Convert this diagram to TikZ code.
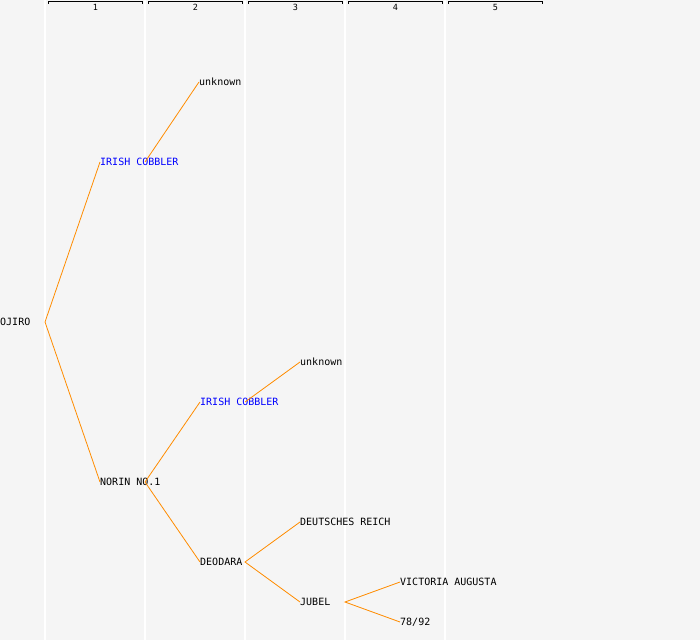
\documentclass[tikz,border=0pt]{standalone}
\usepackage{fontspec}
\setmonofont{DejaVu Sans Mono}
\definecolor{linkc}{RGB}{255,140,0}
\begin{document}
\begin{tikzpicture}[x=1pt,y=-1pt,
  lbl/.style={anchor=west,inner sep=0pt,font=\ttfamily\fontsize{10}{10}\selectfont,text height=7pt,text depth=0pt},
  blue lbl/.style={lbl,text=blue},
  link/.style={draw=linkc,line width=0.8pt},
  gen/.style={draw=white,line width=1.2pt},
  brk/.style={draw=black,line width=0.8pt},
  num/.style={inner sep=0pt,font=\ttfamily\fontsize{8.5}{8.5}\selectfont}]
\fill[black!4] (0,0) rectangle (700,640);
\useasboundingbox (0,0) rectangle (700,640);
% generation columns
\foreach \x in {45,145,245,345,445} \draw[gen] (\x,0) -- (\x,640);
% header brackets
\foreach \i/\a/\b in {1/48.5/142.5,2/148.5/242.5,3/248.5/342.5,4/348.5/442.5,5/448.5/542.5}{
  \draw[brk] (\a,3.5) -- (\a,1.5) -- (\b,1.5) -- (\b,3.5);
  \node[num] (h\i) at ({(\a+\b)/2},7) {\i};
}
% nodes
\node[lbl] (ojiro) at (0,322) {OJIRO};
\node[blue lbl] (ic1) at (100,162) {IRISH COBBLER};
\node[lbl] (unk1) at (199,82) {unknown};
\node[lbl] (norin) at (100,482) {NORIN NO.1};
\node[blue lbl] (ic2) at (200,402) {IRISH COBBLER};
\node[lbl] (unk2) at (300,362) {unknown};
\node[lbl] (deodara) at (200,562) {DEODARA};
\node[lbl] (deut) at (300,522) {DEUTSCHES REICH};
\node[lbl] (jubel) at (300,602) {JUBEL};
\node[lbl] (vict) at (400,582) {VICTORIA AUGUSTA};
\node[lbl] (n7892) at (400,622) {78/92};
% fork points
\coordinate (fojiro) at (45,322);
\coordinate (fic1) at (145,162);
\coordinate (fnorin) at (145,482);
\coordinate (fic2) at (245,402);
\coordinate (fdeodara) at (245,562);
\coordinate (fjubel) at (345,602);
% connectors
\draw[link] (ic1.west) -- (fojiro) -- (norin.west);
\draw[link] (fic1) -- (unk1.west);
\draw[link] (ic2.west) -- (fnorin) -- (deodara.west);
\draw[link] (fic2) -- (unk2.west);
\draw[link] (deut.west) -- (fdeodara) -- (jubel.west);
\draw[link] (vict.west) -- (fjubel) -- (n7892.west);
\end{tikzpicture}
\end{document}
